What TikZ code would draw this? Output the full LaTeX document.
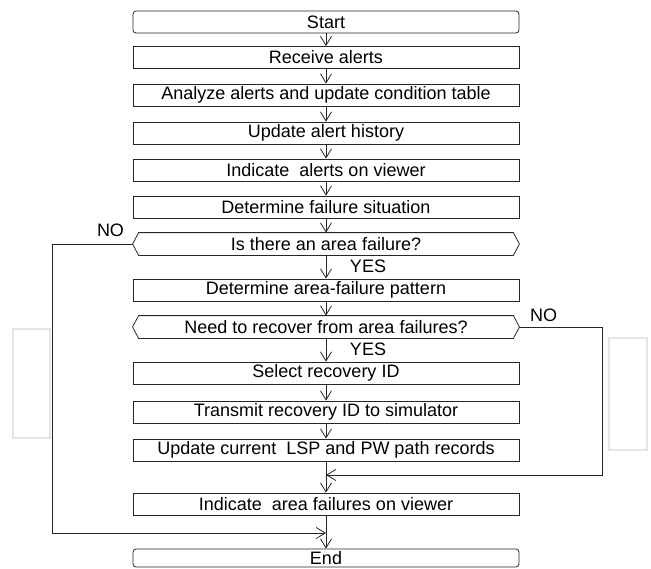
\documentclass[tikz,border=0pt]{standalone}
\usepackage{fontspec}
\setmainfont{Liberation Sans}
\usetikzlibrary{arrows.meta, calc}

\tikzset{
  stepbox/.style={draw=black!85, line width=0.8pt, minimum width=386pt,
    minimum height=22pt, inner sep=0pt, font=\fontsize{18}{20}\selectfont},
  termbox/.style={stepbox, rounded corners=3pt},
  askbox/.style={stepbox, draw=none},
  hexline/.style={draw=black!85, line width=0.8pt},
  flow/.style={draw=black!85, line width=0.8pt,
    -{Straight Barb[length=9pt,width=11pt]}},
  label/.style={font=\fontsize{18}{20}\selectfont, inner sep=0pt},
  ghost/.style={draw=black!10, line width=1.4pt}
}

% decision outline: rectangle with pointed ends
\newcommand{\hexagonal}[1]{%
  \path[hexline] (#1.west) -- ($(#1.north west)+(6,0)$) -- ($(#1.north east)+(-6,0)$)
    -- (#1.east) -- ($(#1.south east)+(-6,0)$) -- ($(#1.south west)+(6,0)$) -- cycle;}

\begin{document}
\begin{tikzpicture}[x=1pt, y=-1pt]
\useasboundingbox (0,0) rectangle (651,568);

% faint side frames
\draw[ghost] (13,329) rectangle (50,438);
\draw[ghost] (609,338) rectangle (647,450);

\node[termbox] (start) at (326,22) {Start};
\node[stepbox] (recv) at (326,57.5) {Receive alerts};
\node[stepbox] (anal) at (326,95) {Analyze alerts and update condition table};
\node[stepbox] (hist) at (326,133) {Update alert history};
\node[stepbox] (show) at (326,170) {Indicate\ \ alerts on viewer};
\node[stepbox] (situ) at (326,207) {Determine failure situation};
\node[askbox] (area) at (326,244) {Is there an area failure?};
\hexagonal{area}
\node[stepbox] (patt) at (326,290) {Determine area-failure pattern};
\node[askbox] (need) at (326,327) {Need to recover from area failures?};
\hexagonal{need}
\node[stepbox] (sel) at (326,373) {Select recovery ID};
\node[stepbox] (trans) at (326,412) {Transmit recovery ID to simulator};
\node[stepbox] (upd) at (326,450) {Update current\ \ LSP and PW path records};
\node[stepbox] (ind) at (326,504) {Indicate\ \ area failures on viewer};
\node[termbox, minimum height=18pt] (end) at (326,558) {End};

\draw[flow] (start) -- (recv);
\draw[flow] (recv) -- (anal);
\draw[flow] (anal) -- (hist);
\draw[flow] (hist) -- (show);
\draw[flow] (show) -- (situ);
\draw[flow] (situ) -- (area);
\draw[flow] (area) -- (patt);
\draw[flow] (patt) -- (need);
\draw[flow] (need) -- (sel);
\draw[flow] (sel) -- (trans);
\draw[flow] (trans) -- (upd);
\draw[flow] (upd) -- (ind);
\draw[flow] (ind) -- (end);

% NO branches
\coordinate (leftTop) at (52,244);
\coordinate (leftBot) at (52,533);
\coordinate (leftJoin) at (326,533);
\draw[flow] (area.west) -- (leftTop) -- (leftBot) -- (leftJoin);

\coordinate (rightTop) at (602,327);
\coordinate (rightBot) at (602,475);
\coordinate (rightJoin) at (326,475);
\draw[flow] (need.east) -- (rightTop) -- (rightBot) -- (rightJoin);

\node[label] (no1) at (110.5,230) {NO};
\node[label] (yes1) at (368,266) {YES};
\node[label] (no2) at (543.5,315) {NO};
\node[label] (yes2) at (368,349) {YES};
\end{tikzpicture}
\end{document}
